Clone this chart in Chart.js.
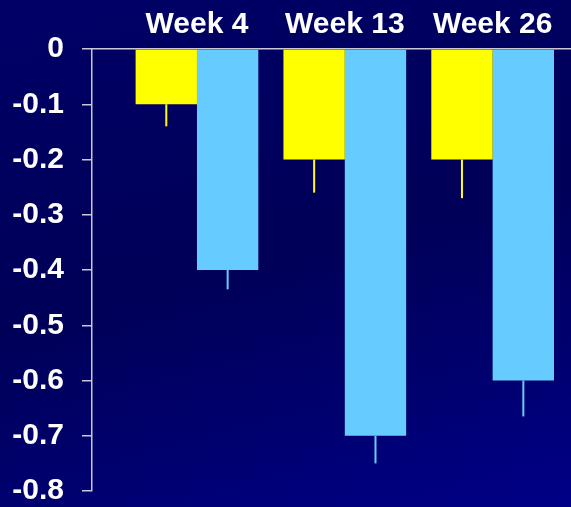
<!DOCTYPE html>
<html>
<head>
<meta charset="utf-8">
<script src="https://cdn.jsdelivr.net/npm/chart.js@4.4.0/dist/chart.umd.min.js"></script>
<style>
	html, body { margin: 0; padding: 0; }
	body {
		width: 571px; height: 507px; overflow: hidden;
		background: linear-gradient(165deg, #000068 0%, #00005e 30%, #000058 50%, #00006e 75%, #000088 100%);
	}
	#wrap { width: 571px; height: 507px; position: relative; }
</style>
</head>
<body>
<div id="wrap"><canvas id="chart"></canvas></div>
<script>
var weeks = ['Week 4', 'Week 13', 'Week 26'];
var weekPos = [1, 2, 3];
var yellowVals = [-0.1, -0.2, -0.2];
var yellowErr = [0.04, 0.06, 0.07];
var blueVals = [-0.4, -0.7, -0.6];
var blueErr = [0.035, 0.05, 0.065];
var yTicks = [0, -0.1, -0.2, -0.3, -0.4, -0.5, -0.6, -0.7, -0.8];

function points(vals) {
	var out = [];
	for (var i in vals) {
		out.push({ x: weekPos[i], y: vals[i] });
	}
	return out;
}

// error whiskers, drawn downward from the bar end
var errorBars = {
	id: 'errorBars',
	afterDatasetsDraw: function(chart) {
		var ctx = chart.ctx;
		var yScale = chart.scales.y;
		chart.data.datasets.forEach(function(ds, di) {
			var meta = chart.getDatasetMeta(di);
			meta.data.forEach(function(bar, i) {
				var low = ds.data[i].y - ds.errors[i];
				ctx.save();
				ctx.strokeStyle = ds.backgroundColor;
				ctx.lineWidth = 2;
				ctx.beginPath();
				ctx.moveTo(bar.x, bar.y);
				ctx.lineTo(bar.x, yScale.getPixelForValue(low));
				ctx.stroke();
				ctx.restore();
			});
		});
	}
};

var ctx = document.getElementById('chart');

new Chart(ctx, {
	type: 'bar',
	data: {
		datasets: [
			{ data: points(yellowVals), errors: yellowErr, backgroundColor: '#ffff00', borderWidth: 0 },
			{ data: points(blueVals), errors: blueErr, backgroundColor: '#66ccff', borderWidth: 0 }
		]
	},
	options: {
		responsive: true,
		maintainAspectRatio: false,
		animation: false,
		layout: { padding: { top: 0, right: 0, bottom: 16, left: 0 } },
		datasets: { bar: { barPercentage: 1, categoryPercentage: 0.83 } },
		plugins: { legend: { display: false }, tooltip: { enabled: false } },
		scales: {
			x: {
				type: 'linear',
				position: 'top',
				offset: false,
				min: 0.29,
				max: 3.53,
				afterBuildTicks: function(scale) {
					scale.ticks = weekPos.map(function(v) { return { value: v }; });
				},
				afterFit: function(scale) { scale.height = 49; },
				grid: { display: false, drawTicks: false, offset: false },
				border: { display: true, color: '#c8c8d8', width: 1.5 },
				ticks: {
					autoSkip: false,
					maxRotation: 0,
					color: '#ffffff',
					padding: 6,
					font: { family: 'Liberation Sans, Arial, sans-serif', size: 30, weight: 'bold' },
					callback: function(v) { return weeks[weekPos.indexOf(v)] || ''; }
				}
			},
			y: {
				min: -0.8,
				max: 0,
				afterBuildTicks: function(scale) {
					scale.ticks = yTicks.map(function(v) { return { value: v }; });
				},
				afterFit: function(scale) {
					scale.width = 92;
					scale.paddingTop = 0;
					scale.paddingBottom = 0;
				},
				grid: { drawOnChartArea: false, drawTicks: true, tickLength: 10, color: '#c8c8d8', lineWidth: 1.5 },
				border: { display: true, color: '#c8c8d8', width: 1.5 },
				ticks: {
					color: '#ffffff',
					padding: 18,
					font: { family: 'Liberation Sans, Arial, sans-serif', size: 30, weight: 'bold' },
					callback: function(v) { return String(Math.round(v * 10) / 10); }
				}
			}
		}
	},
	plugins: [errorBars]
});
</script>
</body>
</html>
